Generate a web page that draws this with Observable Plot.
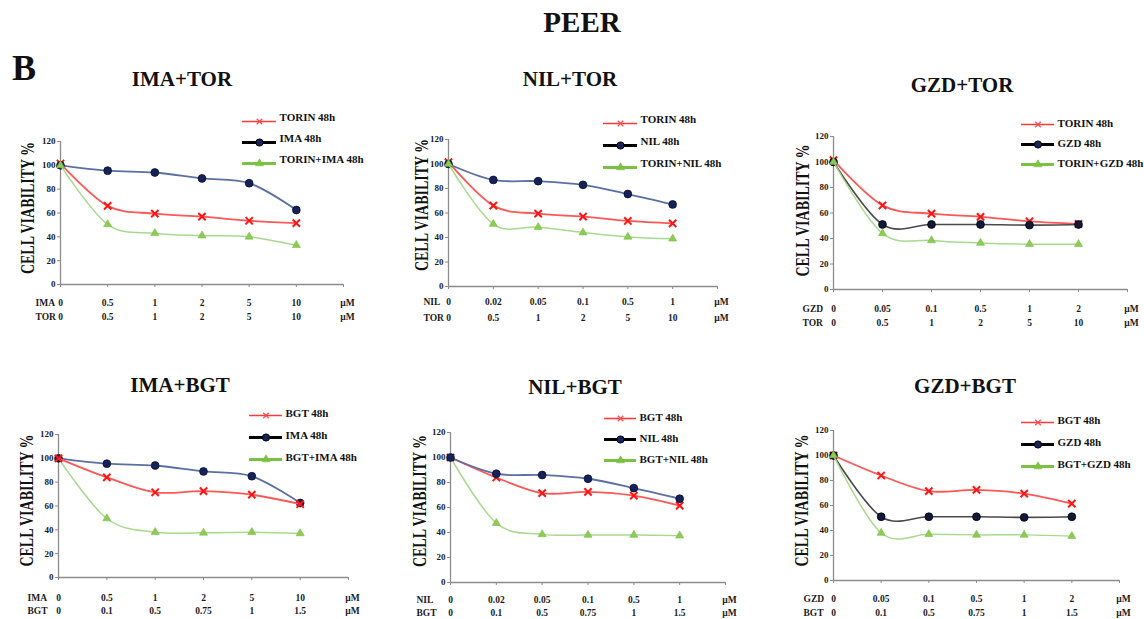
<!DOCTYPE html>
<html><head><meta charset="utf-8">
<script src="https://cdn.jsdelivr.net/npm/d3@7"></script>
<script src="https://cdn.jsdelivr.net/npm/@observablehq/plot@0.6"></script>
<style>
body{margin:0;background:#fff;}
#fig{position:relative;width:1144px;height:619px;overflow:hidden;font-family:"Liberation Serif","Times New Roman",serif;background:#fff;}
#fig svg, #fig svg text{font-family:"Liberation Serif","Times New Roman",serif !important;}
.abs{position:absolute;}
.h{position:absolute;font-weight:bold;color:#111;white-space:nowrap;line-height:1;transform:translate(-50%,-50%);}
</style></head><body><div id="fig"></div>
<script>
// ---------- data ----------
const unit = "µM";
const imaDoses = ["0", "0.5", "1", "2", "5", "10"];
const nilDoses = ["0", "0.02", "0.05", "0.1", "0.5", "1"];
const gzdDoses = ["0", "0.05", "0.1", "0.5", "1", "2"];
const torDoses = ["0", "0.5", "1", "2", "5", "10"];
const bgtDoses = ["0", "0.1", "0.5", "0.75", "1", "1.5"];

const torin48 = [101.5, 66, 59.5, 57, 53.5, 51.5];
const bgt48   = [100, 84, 71.5, 72.5, 69.5, 61.5];
const ima48   = [100, 95.5, 94, 89, 85, 62.5];
const nil48   = [100, 87, 86, 83, 75.5, 67];
const gzd48   = [100, 51, 51, 51, 50.5, 51];

const torinIma48 = [100, 50.5, 43, 41, 40, 33];
const torinNil48 = [100, 51, 48.5, 44, 40.5, 39];
const torinGzd48 = [100, 44, 38.5, 36.5, 35.5, 35.5];
const bgtIma48   = [100, 49.5, 38, 37.5, 38, 37];
const bgtNil48   = [100, 47.5, 38.5, 38, 38, 37.5];
const bgtGzd48   = [100, 38, 37, 36.5, 36.5, 35.5];

const yTicks = [0, 20, 40, 60, 80, 100, 120];
const yLabel = "CELL VIABILITY %";

const panels = [
  {title: "IMA+TOR", a: "IMA", b: "TOR", dA: imaDoses, dB: torDoses, s: [torin48, ima48, torinIma48], names: ["TORIN 48h", "IMA 48h", "TORIN+IMA 48h"], mid: "blue"},
  {title: "NIL+TOR", a: "NIL", b: "TOR", dA: nilDoses, dB: torDoses, s: [torin48, nil48, torinNil48], names: ["TORIN 48h", "NIL 48h", "TORIN+NIL 48h"], mid: "blue"},
  {title: "GZD+TOR", a: "GZD", b: "TOR", dA: gzdDoses, dB: torDoses, s: [torin48, gzd48, torinGzd48], names: ["TORIN 48h", "GZD 48h", "TORIN+GZD 48h"], mid: "gray"},
  {title: "IMA+BGT", a: "IMA", b: "BGT", dA: imaDoses, dB: bgtDoses, s: [bgt48, ima48, bgtIma48], names: ["BGT 48h", "IMA 48h", "BGT+IMA 48h"], mid: "blue"},
  {title: "NIL+BGT", a: "NIL", b: "BGT", dA: nilDoses, dB: bgtDoses, s: [bgt48, nil48, bgtNil48], names: ["BGT 48h", "NIL 48h", "BGT+NIL 48h"], mid: "blue"},
  {title: "GZD+BGT", a: "GZD", b: "BGT", dA: gzdDoses, dB: bgtDoses, s: [bgt48, gzd48, bgtGzd48], names: ["BGT 48h", "GZD 48h", "BGT+GZD 48h"], mid: "gray"}
];

// ---------- layout (pixels) ----------
const layout = [
  {x0: 60,  xEnd: 343,  y120: 141, y0: 284, r1: 18, r2: 32, rowDx: -25, yl: 32, yldy: -5,   tx: 182, ty: 78.5, lx1: 242,  lx2: 276,  ly: [120, 141.5, 163], ldy: -4, order: [0, 1, 2]},
  {x0: 448, xEnd: 717,  y120: 139, y0: 286, r1: 15, r2: 31, rowDx: -25, yl: 26, yldy: -8,   tx: 570, ty: 79,   lx1: 603,  lx2: 637,  ly: [122, 144.5, 167], ldy: -4, order: [0, 1, 2]},
  {x0: 833, xEnd: 1127, y120: 136, y0: 289, r1: 19, r2: 33, rowDx: -31, yl: 30, yldy: -2.5, tx: 962, ty: 84.5, lx1: 1021, lx2: 1054, ly: [124, 144, 164],   ldy: -1, order: [0, 1, 2]},
  {x0: 58,  xEnd: 348,  y120: 434, y0: 577, r1: 20, r2: 33, rowDx: -31, yl: 31, yldy: -5.5, tx: 180, ty: 385,  lx1: 249,  lx2: 282,  ly: [414, 436.5, 459], ldy: -2, order: [2, 1, 0]},
  {x0: 450, xEnd: 725,  y120: 432, y0: 582, r1: 17, r2: 30, rowDx: -34, yl: 30, yldy: -6.5, tx: 575, ty: 387,  lx1: 604,  lx2: 636,  ly: [417, 438.5, 460], ldy: -1, order: [2, 0, 1]},
  {x0: 833, xEnd: 1119, y120: 430, y0: 580, r1: 18, r2: 32, rowDx: -30, yl: 31, yldy: -5,   tx: 965, ty: 386,  lx1: 1021, lx2: 1054, ly: [422, 444, 466],   ldy: -2, order: [0, 1, 2]}
];

const styles = {
  red:   {line: "#ff5656", lw: 1.8, symbol: "times",    fill: "none",    stroke: "#ff1414", sw: 2.0, r: 3.4, legLine: "#ff3a3a", legW: 1.6, legR: 2.6, legSw: 1.2, legStroke: "#ff4a4a", legFill: "none"},
  blue:  {line: "#5a6fa6", lw: 1.8, symbol: "circle",   fill: "#15225a", stroke: "#0a1030", sw: 0.8, r: 3.9, legLine: "#000000", legW: 3, legR: 3.6, legSw: 1, legStroke: "#000", legFill: "#17245e"},
  gray:  {line: "#4a4a4a", lw: 1.6, symbol: "circle",   fill: "#121a3c", stroke: "#000000", sw: 0.8, r: 3.9, legLine: "#000000", legW: 3, legR: 3.6, legSw: 1, legStroke: "#000", legFill: "#17245e"},
  green: {line: "#a8da8e", lw: 1.5, symbol: "triangle", fill: "#8ccb55", stroke: "#7dbd47", sw: 0.6, r: 3.0, legLine: "#7bc143", legW: 3, legR: 3.0, legSw: 0.6, legStroke: "#7bc143", legFill: "#7bc143"}
};

const fig = document.getElementById("fig");
const FONT = '"Liberation Serif","Times New Roman",serif';
const axisCol = "#8c8c8c";

function addHtml(text, cx, cy, size) {
  const d = document.createElement("div");
  d.className = "h";
  d.textContent = text;
  d.style.left = cx + "px";
  d.style.top = cy + "px";
  d.style.fontSize = size + "px";
  fig.appendChild(d);
}

addHtml("PEER", 582, 22, 29);
addHtml("B", 24, 68, 36);

function place(el, left, top) {
  el.classList.add("abs");
  el.style.left = left + "px";
  el.style.top = top + "px";
  el.style.overflow = "visible";
  fig.appendChild(el);
}

panels.forEach((p, k) => {
  const L = layout[k];
  const mL = 70, mR = 30, mT = 12, mB = 44;
  const W = (L.xEnd - L.x0) + mL + mR;
  const H = (L.y0 - L.y120) + mT + mB;
  const sty = [styles.red, styles[p.mid], styles.green];
  const idx = d3.range(6);
  const rowsA = idx.map(i => ({i, t: p.dA[i]}));
  const rowsB = idx.map(i => ({i, t: p.dB[i]}));
  const seriesMarks = [];
  L.order.forEach(j => {
    const data = p.s[j].map((v, i) => ({i, v}));
    const st = sty[j];
    seriesMarks.push(Plot.line(data, {x: "i", y: "v", curve: "cardinal", stroke: st.line, strokeWidth: st.lw}));
    seriesMarks.push(Plot.dot(data, {x: "i", y: "v", symbol: st.symbol, r: st.r, fill: st.fill, stroke: st.stroke, strokeWidth: st.sw}));
  });
  const txt = {frameAnchor: "bottom", lineAnchor: "middle", fontSize: 9.5, fontWeight: "bold", fill: "#1a1a1a", fontFamily: FONT};
  const chart = Plot.plot({
    width: W, height: H,
    marginLeft: mL, marginRight: mR, marginTop: mT, marginBottom: mB,
    style: {fontFamily: FONT, background: "transparent", overflow: "visible", color: "#1a1a1a"},
    x: {domain: [0, 6], axis: null},
    y: {domain: [0, 120], axis: null},
    marks: [
      Plot.axisY(yTicks, {label: null, tickSize: 3, tickPadding: 2, fontSize: 9, fontWeight: "bold", stroke: axisCol}),
      Plot.axisX(d3.range(7), {label: null, tickSize: 3, tickFormat: () => "", stroke: axisCol}),
      Plot.ruleX([0], {stroke: axisCol, strokeWidth: 1.3}),
      Plot.ruleY([0], {stroke: axisCol, strokeWidth: 1.6}),
      Plot.text(rowsA, {x: "i", text: "t", dy: L.r1, ...txt}),
      Plot.text(rowsB, {x: "i", text: "t", dy: L.r2, ...txt}),
      Plot.text([{i: 6, t: unit}], {x: "i", text: "t", dy: L.r1, dx: 4, ...txt}),
      Plot.text([{i: 6, t: unit}], {x: "i", text: "t", dy: L.r2, dx: 4, ...txt}),
      Plot.text([{i: 0, t: p.a}], {x: "i", text: "t", dy: L.r1, dx: L.rowDx, textAnchor: "start", ...txt}),
      Plot.text([{i: 0, t: p.b}], {x: "i", text: "t", dy: L.r2, dx: L.rowDx, textAnchor: "start", ...txt}),
      Plot.text([yLabel], {frameAnchor: "left", textAnchor: "middle", lineAnchor: "middle", rotate: -90, dx: -L.yl, dy: L.yldy, fontSize: 14, fontWeight: "bold", fill: "#111", fontFamily: FONT}),
      ...seriesMarks
    ]
  });
  place(chart, L.x0 - mL, L.y120 - mT);

  // stretch the y-axis label glyphs like the original
  d3.select(chart).selectAll("text").filter(function () { return this.textContent === yLabel; })
    .each(function () {
      const t = this.getAttribute("transform") || "";
      this.setAttribute("transform", t + " scale(1,1.3)");
    });

  addHtml(p.title, L.tx, L.ty, 21);

  // legend
  const len = L.lx2 - L.lx1;
  const lrows = p.names.map((n, j) => ({name: n, x1: 0, x2: 1, xm: 0.5, j}));
  const lm = 10;
  const legMarks = [];
  lrows.forEach((row, j) => {
    const st = sty[j];
    legMarks.push(Plot.ruleY([row], {y: "name", x1: "x1", x2: "x2", stroke: st.legLine, strokeWidth: st.legW}));
    legMarks.push(Plot.dot([row], {x: "xm", y: "name", symbol: st.symbol, r: st.legR, fill: st.legFill, stroke: st.legStroke, strokeWidth: st.legSw}));
  });
  legMarks.push(Plot.text(lrows, {x: "x2", y: "name", text: "name", dx: 3, dy: L.ldy, textAnchor: "start", fontSize: 11, fontWeight: "bold", fill: "#111", fontFamily: FONT}));
  const leg = Plot.plot({
    width: len + 110, height: (L.ly[2] - L.ly[0]) + 2 * lm,
    marginLeft: 0, marginRight: 110, marginTop: lm, marginBottom: lm,
    style: {fontFamily: FONT, background: "transparent", overflow: "visible"},
    x: {domain: [0, 1], axis: null},
    y: {type: "point", domain: p.names, padding: 0, axis: null},
    marks: legMarks
  });
  place(leg, L.lx1, L.ly[0] - lm);
});
</script></body></html>
